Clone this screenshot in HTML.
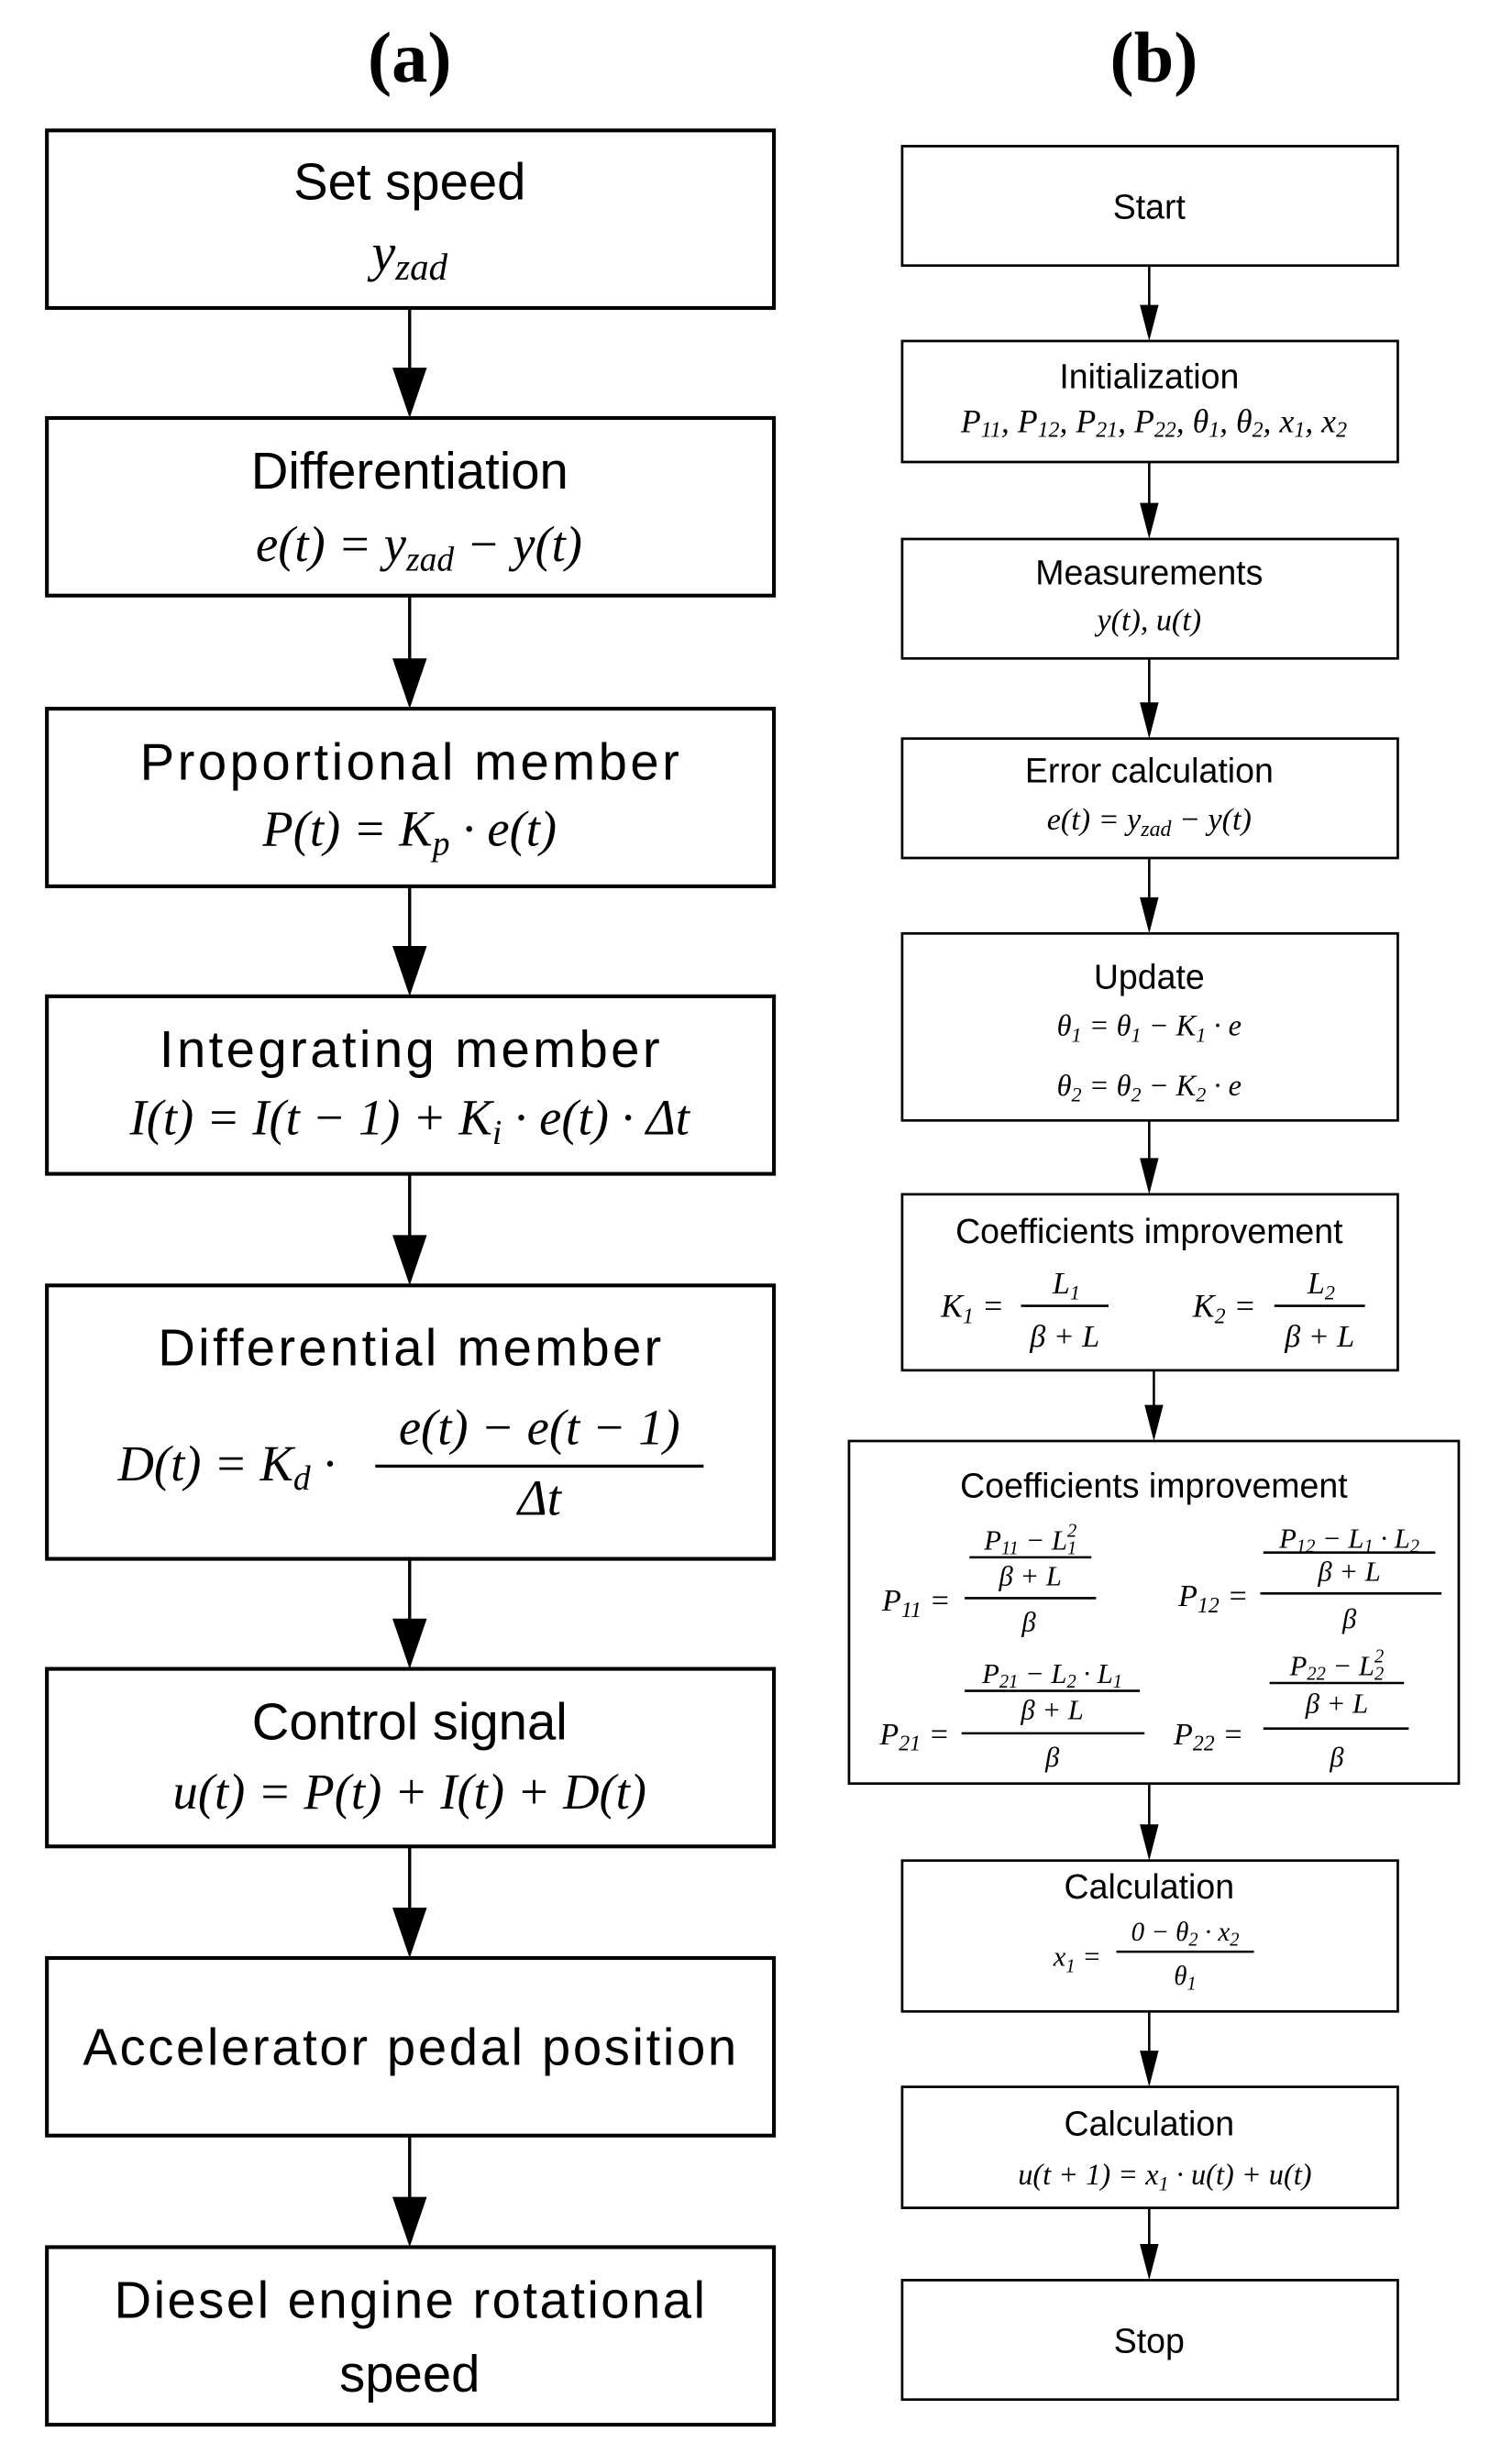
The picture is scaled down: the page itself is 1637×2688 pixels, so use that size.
<!DOCTYPE html>
<html><head><meta charset="utf-8"><style>
html,body{margin:0;padding:0;background:#fff}
svg{display:block}
.t{font-family:"Liberation Sans",sans-serif;fill:#000;text-anchor:middle}
.m{font-family:"Liberation Serif",serif;font-style:italic;fill:#000;text-anchor:middle}
.h{font-family:"Liberation Serif",serif;font-weight:bold;fill:#000;text-anchor:middle}
.b{fill:none;stroke:#000;stroke-width:2.4}
.br{fill:none;stroke:#000;stroke-width:1.6}
.l{stroke:#000;stroke-width:2}
.lr{stroke:#000;stroke-width:1.5}
</style></head><body>
<svg width="1637" height="2688" viewBox="0 0 960 1568" preserveAspectRatio="none" xmlns="http://www.w3.org/2000/svg">
<text class="h" x="262" y="52" font-size="46">(a)</text>
<text class="h" x="738" y="52" font-size="46">(b)</text>

<!-- left boxes -->
<rect class="b" x="30" y="83" width="465" height="113"/>
<text class="t" x="262" y="127" font-size="33">Set speed</text>
<text class="m" x="262" y="172" font-size="34">y<tspan font-size="24" dy="6">zad</tspan></text>

<rect class="b" x="30" y="266" width="465" height="113"/>
<text class="t" x="262" y="311" font-size="33">Differentiation</text>
<text class="m" x="268" y="357" font-size="32">e(t) = y<tspan font-size="22" dy="6">zad</tspan><tspan dy="-6"> − y(t)</tspan></text>

<rect class="b" x="30" y="451" width="465" height="113"/>
<text class="t" x="262" y="496" font-size="33" textLength="345">Proportional member</text>
<text class="m" x="262" y="538" font-size="32">P(t) = K<tspan font-size="22" dy="6">p</tspan><tspan dy="-6"> · e(t)</tspan></text>

<rect class="b" x="30" y="634" width="465" height="113"/>
<text class="t" x="262" y="679" font-size="33" textLength="320">Integrating member</text>
<text class="m" x="262" y="722" font-size="32">I(t) = I(t − 1) + K<tspan font-size="22" dy="6">i</tspan><tspan dy="-6"> · e(t) · Δt</tspan></text>

<rect class="b" x="30" y="818" width="465" height="174"/>
<text class="t" x="262" y="869" font-size="33" textLength="322">Differential member</text>
<text class="m" x="145" y="942" font-size="32">D(t) = K<tspan font-size="22" dy="6">d</tspan><tspan dy="-6"> ·</tspan></text>
<text class="m" x="345" y="919" font-size="32">e(t) − e(t − 1)</text>
<line class="l" x1="240" y1="933" x2="450" y2="933"/>
<text class="m" x="345" y="964" font-size="32">Δt</text>

<rect class="b" x="30" y="1062" width="465" height="113"/>
<text class="t" x="262" y="1107" font-size="33">Control signal</text>
<text class="m" x="262" y="1151" font-size="32">u(t) = P(t) + I(t) + D(t)</text>

<rect class="b" x="30" y="1246" width="465" height="113"/>
<text class="t" x="262" y="1314" font-size="33" textLength="418">Accelerator pedal position</text>

<rect class="b" x="30" y="1430" width="465" height="113"/>
<text class="t" x="262" y="1475" font-size="33" textLength="378">Diesel engine rotational</text>
<text class="t" x="262" y="1522" font-size="33">speed</text>

<!-- left arrows -->
<g>
<line class="l" x1="262" y1="196" x2="262" y2="236"/><polygon points="251,234 273,234 262,266"/>
<line class="l" x1="262" y1="379" x2="262" y2="421"/><polygon points="251,419 273,419 262,451"/>
<line class="l" x1="262" y1="564" x2="262" y2="604"/><polygon points="251,602 273,602 262,634"/>
<line class="l" x1="262" y1="747" x2="262" y2="788"/><polygon points="251,786 273,786 262,818"/>
<line class="l" x1="262" y1="992" x2="262" y2="1032"/><polygon points="251,1030 273,1030 262,1062"/>
<line class="l" x1="262" y1="1175" x2="262" y2="1216"/><polygon points="251,1214 273,1214 262,1246"/>
<line class="l" x1="262" y1="1359" x2="262" y2="1400"/><polygon points="251,1398 273,1398 262,1430"/>
</g>

<!-- right boxes -->
<rect class="br" x="577" y="93" width="317" height="76"/>
<text class="t" x="735" y="139" font-size="22">Start</text>

<rect class="br" x="577" y="217" width="317" height="77"/>
<text class="t" x="735" y="247" font-size="22">Initialization</text>
<text class="m" x="738" y="275" font-size="21">P<tspan font-size="14" dy="3">11</tspan><tspan dy="-3">, P</tspan><tspan font-size="14" dy="3">12</tspan><tspan dy="-3">, P</tspan><tspan font-size="14" dy="3">21</tspan><tspan dy="-3">, P</tspan><tspan font-size="14" dy="3">22</tspan><tspan dy="-3">, θ</tspan><tspan font-size="14" dy="3">1</tspan><tspan dy="-3">, θ</tspan><tspan font-size="14" dy="3">2</tspan><tspan dy="-3">, x</tspan><tspan font-size="14" dy="3">1</tspan><tspan dy="-3">, x</tspan><tspan font-size="14" dy="3">2</tspan></text>

<rect class="br" x="577" y="343" width="317" height="76"/>
<text class="t" x="735" y="372" font-size="22">Measurements</text>
<text class="m" x="735" y="401" font-size="20">y(t), u(t)</text>

<rect class="br" x="577" y="470" width="317" height="76"/>
<text class="t" x="735" y="498" font-size="22">Error calculation</text>
<text class="m" x="735" y="528" font-size="20">e(t) = y<tspan font-size="14" dy="4">zad</tspan><tspan dy="-4"> − y(t)</tspan></text>

<rect class="br" x="577" y="594" width="317" height="119"/>
<text class="t" x="735" y="629" font-size="22">Update</text>
<text class="m" x="735" y="659" font-size="19">θ<tspan font-size="13" dy="4">1</tspan><tspan dy="-4"> = θ</tspan><tspan font-size="13" dy="4">1</tspan><tspan dy="-4"> − K</tspan><tspan font-size="13" dy="4">1</tspan><tspan dy="-4"> · e</tspan></text>
<text class="m" x="735" y="697" font-size="19">θ<tspan font-size="13" dy="4">2</tspan><tspan dy="-4"> = θ</tspan><tspan font-size="13" dy="4">2</tspan><tspan dy="-4"> − K</tspan><tspan font-size="13" dy="4">2</tspan><tspan dy="-4"> · e</tspan></text>

<rect class="br" x="577" y="760" width="317" height="112"/>
<text class="t" x="735" y="791" font-size="22">Coefficients improvement</text>
<text class="m" x="622" y="838" font-size="21">K<tspan font-size="14" dy="4">1</tspan><tspan dy="-4"> =</tspan></text>
<text class="m" x="682" y="823" font-size="20">L<tspan font-size="13" dy="4">1</tspan></text>
<line class="lr" x1="653" y1="831" x2="709" y2="831"/>
<text class="m" x="681" y="857" font-size="20">β + L</text>
<text class="m" x="783" y="838" font-size="21">K<tspan font-size="14" dy="4">2</tspan><tspan dy="-4"> =</tspan></text>
<text class="m" x="845" y="823" font-size="20">L<tspan font-size="13" dy="4">2</tspan></text>
<line class="lr" x1="815" y1="831" x2="873" y2="831"/>
<text class="m" x="844" y="857" font-size="20">β + L</text>

<rect class="br" x="543" y="917" width="390" height="218"/>
<text class="t" x="738" y="953" font-size="22">Coefficients improvement</text>
<!-- P11 -->
<text class="m" x="586" y="1025" font-size="20">P<tspan font-size="14" dy="4">11</tspan><tspan dy="-4"> =</tspan></text>
<text class="m" x="659" y="986" font-size="18">P<tspan font-size="12" dy="3">11</tspan><tspan dy="-3"> − L</tspan><tspan font-size="12" dy="3">1</tspan><tspan font-size="12" dy="-11" dx="-6">2</tspan></text>
<line class="lr" x1="620" y1="991" x2="698" y2="991"/>
<text class="m" x="659" y="1009" font-size="18">β + L</text>
<line class="lr" x1="617" y1="1017" x2="701" y2="1017"/>
<text class="m" x="658" y="1038" font-size="18">β</text>
<!-- P12 -->
<text class="m" x="776" y="1022" font-size="20">P<tspan font-size="14" dy="4">12</tspan><tspan dy="-4"> =</tspan></text>
<text class="m" x="863" y="985" font-size="18">P<tspan font-size="12" dy="3">12</tspan><tspan dy="-3"> − L</tspan><tspan font-size="12" dy="3">1</tspan><tspan dy="-3"> · L</tspan><tspan font-size="12" dy="3">2</tspan></text>
<line class="lr" x1="808" y1="988" x2="918" y2="988"/>
<text class="m" x="863" y="1006" font-size="18">β + L</text>
<line class="lr" x1="806" y1="1014" x2="922" y2="1014"/>
<text class="m" x="863" y="1036" font-size="18">β</text>
<!-- P21 -->
<text class="m" x="585" y="1110" font-size="20">P<tspan font-size="14" dy="4">21</tspan><tspan dy="-4"> =</tspan></text>
<text class="m" x="673" y="1071" font-size="18">P<tspan font-size="12" dy="3">21</tspan><tspan dy="-3"> − L</tspan><tspan font-size="12" dy="3">2</tspan><tspan dy="-3"> · L</tspan><tspan font-size="12" dy="3">1</tspan></text>
<line class="lr" x1="617" y1="1076" x2="729" y2="1076"/>
<text class="m" x="673" y="1094" font-size="18">β + L</text>
<line class="lr" x1="615" y1="1103" x2="732" y2="1103"/>
<text class="m" x="673" y="1124" font-size="18">β</text>
<!-- P22 -->
<text class="m" x="773" y="1110" font-size="20">P<tspan font-size="14" dy="4">22</tspan><tspan dy="-4"> =</tspan></text>
<text class="m" x="855" y="1066" font-size="18">P<tspan font-size="12" dy="3">22</tspan><tspan dy="-3"> − L</tspan><tspan font-size="12" dy="3">2</tspan><tspan font-size="12" dy="-11" dx="-6">2</tspan></text>
<line class="lr" x1="812" y1="1071" x2="898" y2="1071"/>
<text class="m" x="855" y="1090" font-size="18">β + L</text>
<line class="lr" x1="808" y1="1100" x2="901" y2="1100"/>
<text class="m" x="855" y="1124" font-size="18">β</text>

<rect class="br" x="577" y="1184" width="317" height="96"/>
<text class="t" x="735" y="1208" font-size="22">Calculation</text>
<text class="m" x="689" y="1251" font-size="18">x<tspan font-size="12" dy="4">1</tspan><tspan dy="-4"> =</tspan></text>
<text class="m" x="758" y="1235" font-size="17">0 − θ<tspan font-size="12" dy="3">2</tspan><tspan dy="-3"> · x</tspan><tspan font-size="12" dy="3">2</tspan></text>
<line class="lr" x1="714" y1="1242" x2="802" y2="1242"/>
<text class="m" x="758" y="1263" font-size="17">θ<tspan font-size="12" dy="3">1</tspan></text>

<rect class="br" x="577" y="1328" width="317" height="77"/>
<text class="t" x="735" y="1359" font-size="22">Calculation</text>
<text class="m" x="745" y="1390" font-size="19">u(t + 1) = x<tspan font-size="13" dy="4">1</tspan><tspan dy="-4"> · u(t) + u(t)</tspan></text>

<rect class="br" x="577" y="1451" width="317" height="76"/>
<text class="t" x="735" y="1497" font-size="22">Stop</text>

<!-- right arrows -->
<g>
<line class="lr" x1="735" y1="169" x2="735" y2="196"/><polygon points="729,194 741,194 735,217"/>
<line class="lr" x1="735" y1="294" x2="735" y2="322"/><polygon points="729,320 741,320 735,343"/>
<line class="lr" x1="735" y1="419" x2="735" y2="449"/><polygon points="729,447 741,447 735,470"/>
<line class="lr" x1="735" y1="546" x2="735" y2="573"/><polygon points="729,571 741,571 735,594"/>
<line class="lr" x1="735" y1="713" x2="735" y2="739"/><polygon points="729,737 741,737 735,760"/>
<line class="lr" x1="738" y1="872" x2="738" y2="896"/><polygon points="732,894 744,894 738,917"/>
<line class="lr" x1="735" y1="1135" x2="735" y2="1163"/><polygon points="729,1161 741,1161 735,1184"/>
<line class="lr" x1="735" y1="1280" x2="735" y2="1307"/><polygon points="729,1305 741,1305 735,1328"/>
<line class="lr" x1="735" y1="1405" x2="735" y2="1430"/><polygon points="729,1428 741,1428 735,1451"/>
</g>
</svg>
</body></html>
